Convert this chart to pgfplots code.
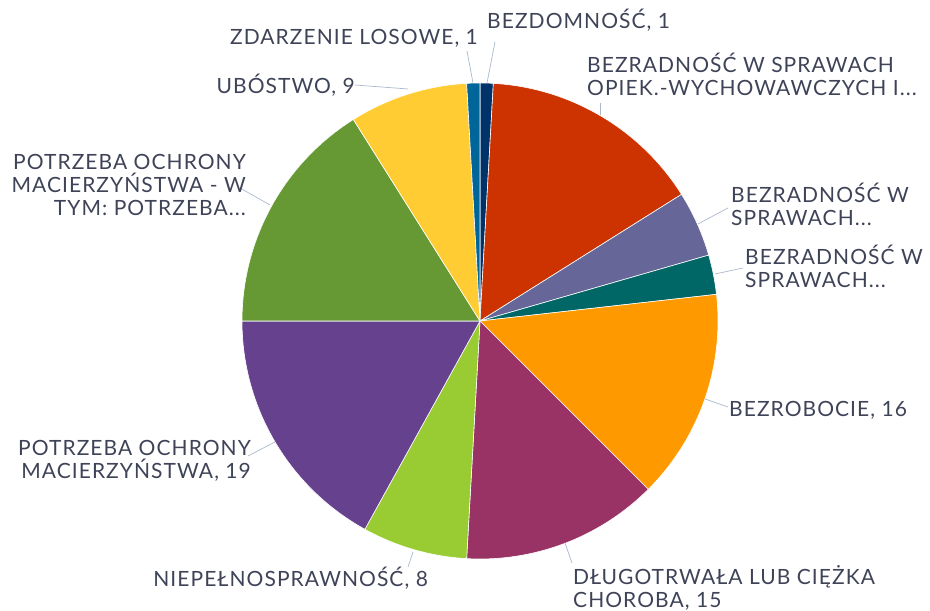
\documentclass[border=0pt]{standalone}
\usepackage{pgfplots}
\pgfplotsset{compat=1.18}
\usepackage{fontspec}
\setmainfont{Lato}[LetterSpace=5]
\definecolor{cNavy}{HTML}{00336A}
\definecolor{cBlue}{HTML}{006699}
\definecolor{cRed}{HTML}{CC3300}
\definecolor{cGrey}{HTML}{666699}
\definecolor{cTeal}{HTML}{006666}
\definecolor{cOrange}{HTML}{FF9900}
\definecolor{cMaroon}{HTML}{993366}
\definecolor{cLime}{HTML}{99CC33}
\definecolor{cPurple}{HTML}{65418E}
\definecolor{cGreen}{HTML}{669933}
\definecolor{cYellow}{HTML}{FFCC33}
\definecolor{txt}{HTML}{3F4358}
\definecolor{lead}{HTML}{AAB8CC}
\begin{document}
\begin{tikzpicture}
\begin{axis}[
  scale only axis, width=930pt, height=607pt,
  xmin=-480, xmax=450, ymin=-286, ymax=321,
  hide axis, clip=false,
]
\path (rel axis cs:0,0) rectangle (rel axis cs:1,1);
\gdef\cum{0}
\foreach \v/\c in {1/cNavy,17/cRed,5/cGrey,3/cTeal,16/cOrange,15/cMaroon,8/cLime,19/cPurple,18/cGreen,9/cYellow,1/cBlue}{%
  \pgfmathsetmacro\a{90-(360/112)*\cum}%
  \pgfmathsetmacro\b{90-(360/112)*(\cum+\v)}%
  \pgfmathsetmacro\xa{238*cos(\a)}%
  \pgfmathsetmacro\ya{238*sin(\a)}%
  \edef\temp{\noexpand\filldraw[fill=\c, draw=white, line width=0.6pt] (axis cs:0,0) -- (axis cs:\xa,\ya) arc[start angle=\a, end angle=\b, radius=238pt] -- cycle;}%
  \temp
  \pgfmathsetmacro\n{\cum+\v}%
  \global\let\cum\n
}
% leader lines
\begin{scope}[draw=lead, line width=0.7pt]
\draw (axis cs:7,238) -- (axis cs:15,279);
\draw (axis cs:-7,238) -- (axis cs:-13,270);
\draw (axis cs:-72,232) -- (axis cs:-125,236);
\draw (axis cs:120,206) -- (axis cs:120,218);
\draw (axis cs:218,97) -- (axis cs:248,113);
\draw (axis cs:235,47) -- (axis cs:263,53);
\draw (axis cs:225,-78) -- (axis cs:248,-86);
\draw (axis cs:85,-222) -- (axis cs:92,-242);
\draw (axis cs:-67,-231) -- (axis cs:-72,-246);
\draw (axis cs:-205,-121) -- (axis cs:-232,-135);
\draw (axis cs:-210,116) -- (axis cs:-240,133);
\end{scope}
\begin{scope}[every node/.style={text=txt, font=\fontsize{21}{23}\selectfont, inner sep=0pt}]
\node[anchor=west] at (axis cs:7,301) {BEZDOMNOŚĆ, 1};
\node[anchor=east] at (axis cs:-2,283) {ZDARZENIE LOSOWE, 1};
\node[anchor=east] at (axis cs:-125,236) {UBÓSTWO, 9};
\node[anchor=west, align=left] at (axis cs:107,247) {BEZRADNOŚĆ W SPRAWACH\\OPIEK.-WYCHOWAWCZYCH I...};
\node[anchor=west, align=left] at (axis cs:251,117) {BEZRADNOŚĆ W\\SPRAWACH...};
\node[anchor=west, align=left] at (axis cs:265,55) {BEZRADNOŚĆ W\\SPRAWACH...};
\node[anchor=west] at (axis cs:249,-89) {BEZROBOCIE, 16};
\node[anchor=west, align=left] at (axis cs:93,-267) {DŁUGOTRWAŁA LUB CIĘŻKA\\CHOROBA, 15};
\node[anchor=east] at (axis cs:-52,-257) {NIEPEŁNOSPRAWNOŚĆ, 8};
\node[anchor=east, align=right] at (axis cs:-229,-140) {POTRZEBA OCHRONY\\MACIERZYŃSTWA, 19};
\node[anchor=east, align=right] at (axis cs:-234,136) {POTRZEBA OCHRONY\\MACIERZYŃSTWA - W\\TYM: POTRZEBA...};
\end{scope}
\end{axis}
\end{tikzpicture}
\end{document}
